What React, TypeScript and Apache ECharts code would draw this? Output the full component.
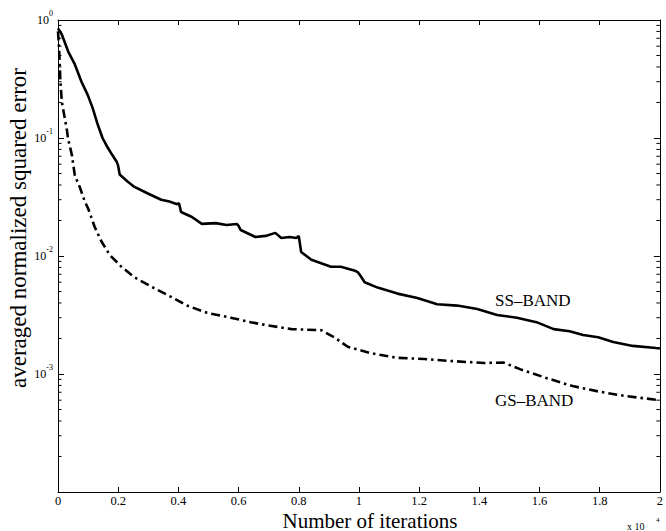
import React, { useEffect, useRef } from 'react';
import * as echarts from 'echarts';

const FONT = "'Liberation Serif', 'Times New Roman', serif";

// iterations in units of 10^4
const ssIter = [0, 0.012, 0.034, 0.056, 0.078, 0.099, 0.115, 0.132, 0.148, 0.165, 0.18, 0.195, 0.2, 0.205, 0.23, 0.254, 0.297, 0.343, 0.37, 0.396, 0.402, 0.409, 0.445, 0.478, 0.524, 0.56, 0.594, 0.6, 0.607, 0.656, 0.69, 0.722, 0.742, 0.77, 0.792, 0.8, 0.808, 0.842, 0.907, 0.94, 0.987, 0.996, 1.005, 1.019, 1.062, 1.128, 1.194, 1.26, 1.327, 1.393, 1.459, 1.525, 1.59, 1.647, 1.7, 1.745, 1.795, 1.845, 1.91, 1.987, 2.0];
const ssErr = [0.85, 0.76, 0.54, 0.42, 0.3, 0.231, 0.18, 0.13, 0.1, 0.083, 0.072, 0.063, 0.058, 0.049, 0.043, 0.0385, 0.034, 0.03, 0.029, 0.0275, 0.028, 0.0236, 0.0214, 0.0187, 0.019, 0.0183, 0.0187, 0.018, 0.0166, 0.0145, 0.0148, 0.0157, 0.0142, 0.0145, 0.0142, 0.0148, 0.0108, 0.0093, 0.0081, 0.0081, 0.0075, 0.0073, 0.0068, 0.006, 0.0054, 0.0048, 0.0044, 0.0039, 0.0038, 0.00355, 0.00316, 0.003, 0.00275, 0.0024, 0.0023, 0.00214, 0.00205, 0.00187, 0.00173, 0.00166, 0.00165];

const gsIter = [0, 0.004, 0.008, 0.013, 0.02, 0.03, 0.033, 0.046, 0.056, 0.073, 0.089, 0.099, 0.106, 0.122, 0.145, 0.172, 0.211, 0.254, 0.31, 0.376, 0.429, 0.495, 0.574, 0.64, 0.69, 0.776, 0.875, 0.92, 0.963, 1.04, 1.128, 1.217, 1.3, 1.415, 1.48, 1.535, 1.62, 1.71, 1.797, 1.886, 2.0];
const gsErr = [0.8, 0.55, 0.3, 0.2, 0.16, 0.115, 0.1, 0.072, 0.048, 0.038, 0.029, 0.0256, 0.023, 0.0176, 0.0132, 0.0102, 0.0081, 0.0066, 0.0055, 0.0045, 0.0038, 0.0033, 0.003, 0.00275, 0.0026, 0.0024, 0.00235, 0.00203, 0.0017, 0.0015, 0.00137, 0.00134, 0.00129, 0.00124, 0.00125, 0.0011, 0.00093, 0.00079, 0.00071, 0.00065, 0.0006];

const yDecades = [1e-4, 1e-3, 1e-2, 1e-1];
const yMinorSteps = [2, 3, 4, 5, 6, 7, 8, 9];
const yMinorTicks: number[] = [];
yDecades.forEach((d) => yMinorSteps.forEach((m) => yMinorTicks.push(m * d)));

const ssData = ssIter.map((x, i) => [x, ssErr[i]]);
const gsData = gsIter.map((x, i) => [x, gsErr[i]]);

export default function App() {
  const ref = useRef<HTMLDivElement>(null);
  useEffect(() => {
    const chart = echarts.init(ref.current!, null, { renderer: 'svg' });
    const axisLine = { show: true, onZero: false, lineStyle: { color: '#000', width: 1 } };
    const xLabelFmt = (v: number) => String(Number(v.toFixed(1)));
    const yLabelFmt = (v: number) => {
      const e = Math.round(Math.log10(v));
      if (e === -4) return '';
      return '{b|10}{s|' + (e === 0 ? '0' : '-' + -e) + '}';
    };
    const txt = (text: string, x: number, y: number, fontSize: number, align: string, extra: any = {}) => ({
      type: 'text', x, y, rotation: extra.rotation || 0,
      style: { text, fontSize, fontFamily: FONT, fill: '#000', align, verticalAlign: 'middle', textAlign: align, textVerticalAlign: 'middle', lineHeight: extra.lh || fontSize + 2 },
    });
    chart.setOption({
      animation: false,
      backgroundColor: '#fff',
      grid: { left: 58, right: 3, top: 20, bottom: 39 },
      xAxis: [
        {
          type: 'value', min: 0, max: 2, interval: 0.2, position: 'bottom',
          axisLine, axisTick: { inside: true, length: 5, lineStyle: { color: '#000' } },
          axisLabel: { color: '#000', fontFamily: FONT, fontSize: 12.5, lineHeight: 12, margin: 3, formatter: xLabelFmt },
          splitLine: { show: false },
        },
        {
          type: 'value', min: 0, max: 2, interval: 0.2, position: 'top',
          axisLine, axisTick: { inside: true, length: 5, lineStyle: { color: '#000' } },
          axisLabel: { show: false }, splitLine: { show: false },
        },
      ],
      yAxis: [
        {
          type: 'log', logBase: 10, min: 1e-4, max: 1, splitNumber: 4, position: 'left',
          axisLine, axisTick: { inside: true, length: 6, lineStyle: { color: '#000' } },
          axisLabel: {
            color: '#000', fontFamily: FONT, margin: 5, formatter: yLabelFmt,
            rich: {
              b: { fontSize: 12, fontFamily: FONT, color: '#000', padding: [5, 0, 5, 0] },
              s: { fontSize: 8, fontFamily: FONT, color: '#000', verticalAlign: 'top', lineHeight: 10 },
            },
          },
          splitLine: { show: false },
        },
        {
          type: 'log', logBase: 10, min: 1e-4, max: 1, splitNumber: 4, position: 'right',
          axisLine, axisTick: { inside: true, length: 6, lineStyle: { color: '#000' } },
          axisLabel: { show: false }, splitLine: { show: false },
        },
      ],
      series: [
        {
          name: 'SS-BAND', type: 'line', data: ssData, showSymbol: false, symbol: 'none',
          lineStyle: { color: '#000', width: 2.6 }, xAxisIndex: 0, yAxisIndex: 0,
        },
        {
          name: 'GS-BAND', type: 'line', data: gsData, showSymbol: false, symbol: 'none',
          lineStyle: { color: '#000', width: 2.6, type: [9, 4, 2.5, 4] }, xAxisIndex: 0, yAxisIndex: 0,
        },
        {
          type: 'custom', xAxisIndex: 0, yAxisIndex: 0, silent: true, clip: false, z: 5,
          data: yMinorTicks.map((v) => [0, v]),
          renderItem: (params: any, api: any) => {
            const v = api.value(1);
            const l = api.coord([0, v]);
            const r = api.coord([2, v]);
            return {
              type: 'group',
              children: [
                { type: 'line', shape: { x1: l[0], y1: l[1], x2: l[0] + 3.5, y2: l[1] }, style: { stroke: '#000', lineWidth: 1 } },
                { type: 'line', shape: { x1: r[0], y1: r[1], x2: r[0] - 3.5, y2: r[1] }, style: { stroke: '#000', lineWidth: 1 } },
              ],
            };
          },
        },
      ],
      graphic: [
        txt('averaged normalized squared error', 18, 228, 23, 'center', { rotation: Math.PI / 2, lh: 22 }),
        txt('Number of iterations', 370, 520.5, 21, 'center', { lh: 19 }),
        txt('x 10', 627, 526, 10, 'left', { lh: 9 }),
        txt('4', 656, 520, 7, 'left', { lh: 7 }),
        txt('SS–BAND', 495, 300, 17, 'left'),
        txt('GS–BAND', 495, 400, 17, 'left'),
      ],
    });
    return () => chart.dispose();
  }, []);
  return <div ref={ref} style={{ position: 'fixed', left: 0, top: 0, width: 666, height: 531 }} />;
}
